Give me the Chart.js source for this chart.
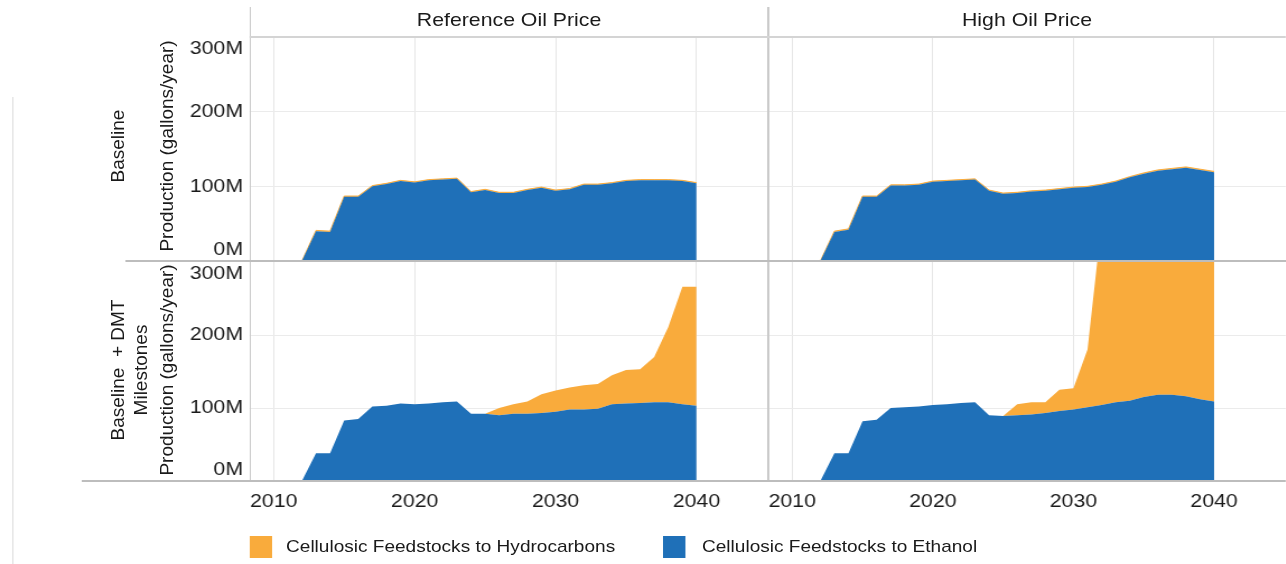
<!DOCTYPE html>
<html>
<head>
<meta charset="utf-8">
<title>Cellulosic production</title>
<script src="https://cdn.jsdelivr.net/npm/chart.js@4.4.1/dist/chart.umd.min.js"></script>
<style>
  html, body { margin: 0; padding: 0; background: #fff; overflow: hidden; }
  /* whole layout is drawn 1148 wide and stretched to the window width */
  #stage {
    position: absolute; left: 0; top: 0; width: 1148px; height: 564px;
    transform: scaleX(1.12); transform-origin: 0 0;
    font-family: "Liberation Sans", Arial, sans-serif; color: #1a1a1a;
  }
  .rule { position: absolute; z-index: 2; }
  .title { position: absolute; top: 8px; height: 24px; line-height: 24px; font-size: 19px; text-align: center; }
  /* vertical labels are un-stretched so the glyphs keep their shape */
  .vtext { position: absolute; font-size: 19px; white-space: pre; line-height: 22px;
    transform: translate(-50%, -50%) scaleX(0.893) rotate(-90deg); }
  .key { position: absolute; top: 536px; width: 20px; height: 22px; }
  .keytext { position: absolute; top: 536px; height: 22px; line-height: 22px; font-size: 17px; white-space: nowrap; }
</style>
</head>
<body>
<div id="stage"></div>
<script>
// yearly production, million gallons per year
const years = [2012, 2013, 2014, 2015, 2016, 2017, 2018, 2019, 2020, 2021,
  2022, 2023, 2024, 2025, 2026, 2027, 2028, 2029, 2030, 2031,
  2032, 2033, 2034, 2035, 2036, 2037, 2038, 2039, 2040];
const yearTicks = [2010, 2020, 2030, 2040];
const valueTicks = [0, 100, 200, 300];

const seriesNames = ["Cellulosic Feedstocks to Hydrocarbons", "Cellulosic Feedstocks to Ethanol"];
const columnTitles = ["Reference Oil Price", "High Oil Price"];
const rowLabels = [["Baseline"], ["Baseline  + DMT", "Milestones"]];
const axisTitle = "Production (gallons/year)";

const refBaseEthanol = [0, 40, 39, 86, 86, 100, 103, 107, 105, 108, 109, 110, 92, 95, 91,
  91, 95, 98, 94, 96, 102, 102, 104, 107, 108, 108, 108, 107, 104];
const refBaseHydro = [0, 1, 1, 1, 1, 1, 1, 1, 1, 1, 1, 1, 1, 1, 1,
  1, 1, 1, 1, 1, 1, 1, 1, 1, 1, 1, 1, 1, 1];

const highBaseEthanol = [0, 39, 42, 86, 86, 101, 101, 102, 106, 107, 108, 109, 94, 90, 91,
  93, 94, 96, 98, 99, 102, 106, 112, 117, 121, 123, 125, 122, 119];
const highBaseHydro = [0, 1, 1, 1, 1, 1, 1, 1, 1, 1, 1, 1, 1, 1, 1,
  1, 1, 1, 1, 1, 1, 1, 1, 1, 1, 1, 1, 1, 1];

const refDmtEthanol = [0, 38, 38, 83, 85, 102, 103, 106, 105, 106, 108, 109, 92, 92, 90,
  92, 92, 93, 95, 98, 98, 99, 105, 106, 107, 108, 108, 105, 103];
const refDmtHydro = [0, 0, 0, 0, 0, 0, 0, 0, 0, 0, 0, 0, 0, 0, 10,
  13, 17, 26, 29, 30, 33, 34, 40, 46, 46, 62, 103, 161, 163];

const highDmtEthanol = [0, 38, 38, 82, 84, 100, 101, 102, 104, 105, 107, 108, 90, 89, 90,
  91, 93, 96, 98, 101, 104, 108, 110, 115, 118, 118, 116, 112, 109];
const highDmtHydro = [0, 0, 0, 0, 0, 0, 0, 0, 0, 0, 0, 0, 0, 0, 15,
  17, 15, 29, 29, 79, 250, 250, 250, 250, 250, 250, 250, 250, 250];

const BLUE = "#1f70b8";
const ORANGE = "#f9ab3c";
const TEXT = "#1a1a1a";
const FONT = '"Liberation Sans", Arial, sans-serif';

// pane geometry (unstretched px)
const PANEL_LEFT = [223, 686];
const PANEL_WIDTH = [463, 462];
const PANEL_TOP = [37, 262];
const PANEL_HEIGHT = [224, 219];
const Y_AXIS_W = 80;
const X_AXIS_H = 38;
const PAD = 4;

const stage = document.getElementById("stage");

function addDiv(cls, style, text) {
  const d = document.createElement("div");
  d.className = cls;
  d.style.cssText = style;
  if (text) d.textContent = text;
  stage.appendChild(d);
  return d;
}

function points(values) {
  return years.map((x, i) => ({ x: x, y: values[i] }));
}

function makePanel(col, row, ethanol, hydro) {
  const showY = col === 0;
  const showX = row === 1;
  const padL = showY ? 0 : PAD;
  const padB = showX ? 0 : PAD;
  const axisW = showY ? Y_AXIS_W : 0;
  const axisH = showX ? X_AXIS_H : 0;
  const w = axisW + padL + PANEL_WIDTH[col] + PAD;
  const h = PAD + PANEL_HEIGHT[row] + axisH + padB;

  const canvas = document.createElement("canvas");
  canvas.width = w;
  canvas.height = h;
  canvas.style.cssText = "position:absolute;left:" + (PANEL_LEFT[col] - axisW - padL) +
    "px;top:" + (PANEL_TOP[row] - PAD) + "px;width:" + w + "px;height:" + h + "px";
  stage.appendChild(canvas);

  new Chart(canvas, {
    type: "line",
    data: {
      datasets: [
        {
          label: seriesNames[1],
          data: points(ethanol),
          backgroundColor: BLUE,
          borderWidth: 0,
          pointRadius: 0,
          fill: "origin",
        },
        {
          label: seriesNames[0],
          data: points(hydro),
          backgroundColor: ORANGE,
          borderColor: ORANGE,
          borderWidth: row === 0 ? 1 : 0,
          pointRadius: 0,
          fill: "-1",
        },
      ],
    },
    options: {
      responsive: false,
      animation: false,
      events: [],
      layout: { padding: { left: padL, right: PAD, top: PAD, bottom: padB } },
      plugins: { legend: { display: false }, tooltip: { enabled: false } },
      scales: {
        x: {
          type: "linear",
          min: 2008.3,
          max: 2045.1,
          afterBuildTicks: (s) => { s.ticks = yearTicks.map((v) => ({ value: v })); },
          afterFit: (s) => { s.height = axisH; s.paddingLeft = 0; s.paddingRight = 0; },
          grid: { color: "#e6e6e6", lineWidth: 1, drawTicks: false },
          border: { display: false },
          ticks: {
            display: showX,
            padding: 9,
            maxRotation: 0,
            color: TEXT,
            font: { family: FONT, size: 19 },
            callback: (v) => String(v),
          },
        },
        y: {
          stacked: true,
          min: 0,
          max: 300,
          afterBuildTicks: (s) => { s.ticks = valueTicks.map((v) => ({ value: v })); },
          afterFit: (s) => { s.width = axisW; s.paddingTop = 0; s.paddingBottom = 0; },
          grid: {
            drawTicks: false,
            color: (c) => (c.tick && c.tick.value > 0 && c.tick.value < 300) ? "#ebebeb" : "rgba(0,0,0,0)",
          },
          border: { display: false },
          ticks: {
            display: showY,
            padding: 6,
            color: TEXT,
            font: { family: FONT, size: 19 },
            // end labels sit inside the pane
            callback: (v) => {
              const text = v + "M";
              if (v === valueTicks[valueTicks.length - 1]) return ["", text];
              if (v === valueTicks[0]) return [text, ""];
              return text;
            },
          },
        },
      },
    },
  });
}

makePanel(0, 0, refBaseEthanol, refBaseHydro);
makePanel(1, 0, highBaseEthanol, highBaseHydro);
makePanel(0, 1, refDmtEthanol, refDmtHydro);
makePanel(1, 1, highDmtEthanol, highDmtHydro);

// column headers
columnTitles.forEach((t, i) => {
  addDiv("title", "left:" + PANEL_LEFT[i] + "px;width:" + PANEL_WIDTH[i] + "px", t);
});

// row headers and axis titles
const rowCenter = [146, 370];
rowLabels.forEach((lines, r) => {
  const xs = [105.4, 126.3];
  lines.forEach((line, j) => {
    addDiv("vtext", "left:" + xs[j] + "px;top:" + rowCenter[r] + "px", line);
  });
  addDiv("vtext", "left:148.5px;top:" + rowCenter[r] + "px", axisTitle);
});

// pane borders
addDiv("rule", "left:10.5px;top:97px;width:1px;height:467px;background:#dedede");
addDiv("rule", "left:222.5px;top:7px;width:1.3px;height:474px;background:#cacaca");
addDiv("rule", "left:685.3px;top:7px;width:1.3px;height:474px;background:#cacaca");
addDiv("rule", "left:223px;top:36.3px;width:925px;height:1.5px;background:#d4d4d4");
addDiv("rule", "left:111.6px;top:260px;width:1037px;height:2px;background:#bdbdbd");
addDiv("rule", "left:73.2px;top:480px;width:1075px;height:2px;background:#bdbdbd");

// legend
const legendX = [[223, 255.4], [592, 626.8]];
[ORANGE, BLUE].forEach((c, i) => {
  addDiv("key", "left:" + legendX[i][0] + "px;background:" + c);
  addDiv("keytext", "left:" + legendX[i][1] + "px", seriesNames[i]);
});
</script>
</body>
</html>
